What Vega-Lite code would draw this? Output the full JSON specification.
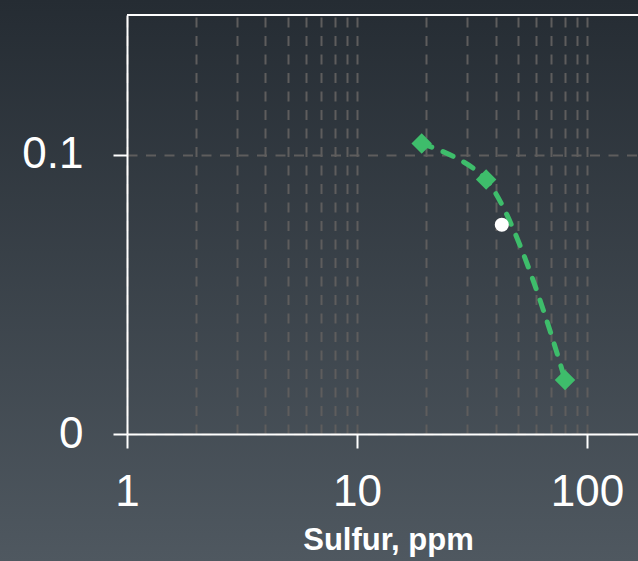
{
  "$schema": "https://vega.github.io/schema/vega-lite/v6.json",
  "width": 638,
  "height": 561,
  "autosize": {"type": "none"},
  "padding": 0,
  "background": "#3a424a",
  "view": {"stroke": null, "fill": {"gradient": "linear", "x1": 0, "y1": 0, "x2": 0, "y2": 1, "stops": [{"offset": 0, "color": "#252c33"}, {"offset": 1, "color": "#4f5860"}]}},
  "config": {"font": "Liberation Sans"},
  "datasets": {
    "curve": [
      {"sulfur": 19.1, "frac": 0.104},
      {"sulfur": 36.4, "frac": 0.0911},
      {"sulfur": 80.2, "frac": 0.0193}
    ],
    "ref": [
      {"sulfur": 42.6, "frac": 0.0749}
    ],
    "border": [
      {"frac": 0.15, "lo": 1, "hi": 185.9}
    ]
  },
  "resolve": {"axis": {"x": "independent", "y": "independent"}},
  "layer": [
    {
      "data": {"name": "curve"},
      "mark": {"type": "line", "color": "#3ebd6b", "strokeWidth": 5, "strokeDash": [11, 12], "strokeCap": "round", "interpolate": "catmull-rom"},
      "encoding": {
        "x": {
          "field": "sulfur", "type": "quantitative",
          "scale": {"type": "log", "domain": [1, 185.9], "range": [127, 649], "nice": false},
          "axis": {
            "orient": "top",
            "values": [1, 2, 3, 4, 5, 6, 7, 8, 9, 10, 20, 30, 40, 50, 60, 70, 80, 90, 100],
            "domain": false, "ticks": false, "labels": false, "title": null,
            "grid": true,
            "gridColor": "#5e5d5d",
            "gridWidth": 2,
            "gridDash": [10, 8.5]
          }
        },
        "y": {
          "field": "frac", "type": "quantitative",
          "scale": {"domain": [0, 0.15], "range": [434, 15], "nice": false},
          "axis": {
            "orient": "left",
            "values": [0, 0.1],
            "domain": false, "ticks": false, "labels": false, "title": null,
            "grid": true,
            "gridColor": "#5e5d5d",
            "gridWidth": 2,
            "gridDash": [10, 8.5]
          }
        }
      }
    },
    {
      "data": {"name": "curve"},
      "mark": {"type": "point", "shape": "diamond", "filled": true, "color": "#3ebd6b", "size": 420, "opacity": 1},
      "encoding": {
        "x": {
          "field": "sulfur", "type": "quantitative",
          "axis": {
            "orient": "bottom",
            "values": [1, 10, 100],
            "labelExpr": "'' + datum.value",
            "labelOverlap": false,
            "labelFlush": false,
            "labelFontSize": 44,
            "labelColor": "white",
            "labelPadding": 22,
            "tickSize": 14,
            "tickWidth": 2,
            "tickColor": "white",
            "domainColor": "white",
            "domainWidth": 2,
            "offset": -127,
            "grid": false,
            "title": "Sulfur, ppm",
            "titleFontSize": 31,
            "titleFontWeight": "bold",
            "titleColor": "white",
            "titlePadding": 11
          }
        },
        "y": {
          "field": "frac", "type": "quantitative",
          "axis": {
            "orient": "left",
            "values": [0, 0.1],
            "format": "~g",
            "labelFontSize": 44,
            "labelColor": "white",
            "labelPadding": 30,
            "tickSize": 14,
            "tickWidth": 2,
            "tickColor": "white",
            "domainColor": "white",
            "domainWidth": 2,
            "offset": -127,
            "grid": false,
            "title": null
          }
        }
      }
    },
    {
      "data": {"name": "ref"},
      "mark": {"type": "point", "shape": "circle", "filled": true, "color": "white", "size": 200, "opacity": 1},
      "encoding": {
        "x": {"field": "sulfur", "type": "quantitative", "axis": null},
        "y": {"field": "frac", "type": "quantitative", "axis": null}
      }
    },
    {
      "data": {"name": "border"},
      "mark": {"type": "rule", "color": "white", "strokeWidth": 2},
      "encoding": {
        "y": {"field": "frac", "type": "quantitative", "axis": null},
        "x": {"field": "lo", "type": "quantitative", "axis": null},
        "x2": {"field": "hi"}
      }
    }
  ]
}
